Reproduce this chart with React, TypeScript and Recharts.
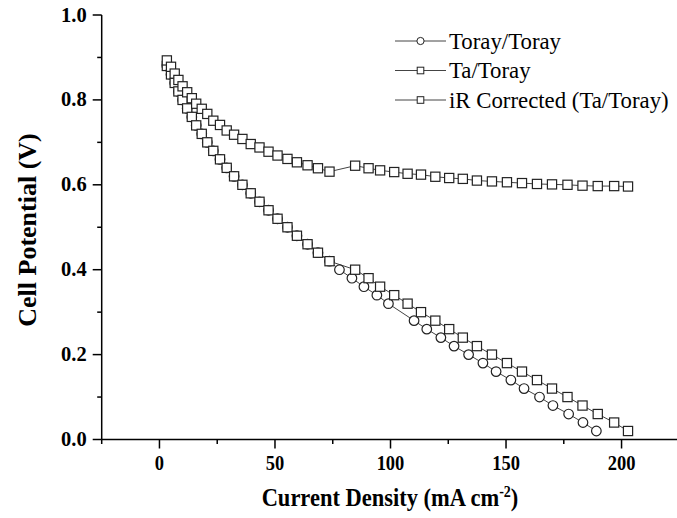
import React from 'react';
import { ComposedChart, Line, XAxis, YAxis } from 'recharts';

// Series names, in legend order
const seriesNames = ['Toray/Toray', 'Ta/Toray', 'iR Corrected (Ta/Toray)'];

// Ta/Toray cell: stepped cell potential (V) and current density (mA cm^-2)
const taVoltage = [
  0.88, 0.86, 0.84, 0.82, 0.8, 0.78, 0.76, 0.74, 0.72, 0.7, 0.68, 0.66, 0.64, 0.62, 0.6,
  0.58, 0.56, 0.54, 0.52, 0.5, 0.48, 0.46, 0.44, 0.42, 0.4, 0.38, 0.36, 0.34, 0.32, 0.3,
  0.28, 0.26, 0.24, 0.22, 0.2, 0.18, 0.16, 0.14, 0.12, 0.1, 0.08, 0.06, 0.04, 0.02,
];
const taCurrent = [
  3.2, 5.0, 6.6, 8.2, 10.0, 12.0, 14.0, 15.9, 18.3, 20.7, 23.3, 26.2, 29.1, 32.3, 35.9,
  39.5, 43.3, 47.2, 51.1, 55.4, 59.5, 64.1, 68.6, 73.6, 84.7, 90.5, 95.5, 101.6, 107.4, 113.2,
  119.4, 125.4, 131.3, 137.4, 143.9, 150.4, 156.9, 163.4, 169.9, 176.6, 183.1, 189.7, 196.8, 202.8,
];
// iR-corrected potential of the Ta/Toray cell at the same current densities
const irCorrectedVoltage = [
  0.893, 0.878, 0.862, 0.847, 0.832, 0.818, 0.804, 0.791, 0.779, 0.767, 0.751, 0.741, 0.728, 0.718, 0.708,
  0.696, 0.688, 0.678, 0.669, 0.661, 0.653, 0.646, 0.639, 0.631, 0.645, 0.639, 0.634, 0.63, 0.626, 0.624,
  0.619, 0.616, 0.614, 0.61, 0.608, 0.606, 0.604, 0.602, 0.601, 0.6, 0.598, 0.597, 0.597, 0.596,
];
// Toray/Toray cell
const torayVoltage = [
  0.88, 0.86, 0.84, 0.82, 0.8, 0.78, 0.76, 0.74, 0.72, 0.7, 0.68, 0.66, 0.64, 0.62, 0.6,
  0.58, 0.56, 0.54, 0.52, 0.5, 0.48, 0.46, 0.44, 0.42, 0.4, 0.38, 0.36, 0.34, 0.32, 0.28,
  0.26, 0.24, 0.22, 0.2, 0.18, 0.16, 0.14, 0.12, 0.1, 0.08, 0.06, 0.04, 0.02,
];
const torayCurrent = [
  3.2, 5.0, 6.6, 8.2, 10.0, 12.0, 14.0, 15.9, 18.3, 20.7, 23.3, 26.2, 29.1, 32.3, 35.9,
  39.5, 43.3, 47.2, 51.1, 55.4, 59.5, 64.1, 68.6, 73.6, 77.9, 83.3, 88.5, 94.1, 99.1, 110.2,
  115.7, 121.8, 127.5, 133.8, 140.0, 145.7, 152.1, 157.8, 164.5, 170.3, 177.1, 183.3, 189.1,
];

// Axis ticks (majors are labelled, the others are minor)
const xTicks = [-25, 0, 25, 50, 75, 100, 125, 150, 175, 200];
const xMajorLabels = [0, 50, 100, 150, 200];
const yTicks = [0, 0.1, 0.2, 0.3, 0.4, 0.5, 0.6, 0.7, 0.8, 0.9, 1.0];
const yMajorLabels = ['0.0', '0.2', '0.4', '0.6', '0.8', '1.0'];

const toPoints = (xs: number[], ys: number[]) => xs.map((x, i) => ({ x, v: ys[i] }));
const torayData = toPoints(torayCurrent, torayVoltage);
const taData = toPoints(taCurrent, taVoltage);
const irData = toPoints(taCurrent, irCorrectedVoltage);

const W = 677;
const H = 518;
const PLOT_LEFT = 101.7;
const PLOT_TOP = 15;
const PLOT_BOTTOM = 439.5;
const FONT = "'Liberation Serif', 'Times New Roman', serif";
const MARK = '#222';
const LINK = '#444';

const SquareDot = (props: any) => {
  const { cx, cy, index } = props;
  if (cx == null || cy == null) return <g key={`s-${index}`} />;
  return (
    <rect key={`s-${index}`} x={cx - 4.6} y={cy - 4.6} width={9.2} height={9.2}
      fill="#fff" stroke={MARK} strokeWidth={1.2} />
  );
};

const CircleDot = (props: any) => {
  const { cx, cy, index } = props;
  if (cx == null || cy == null) return <g key={`c-${index}`} />;
  return <circle key={`c-${index}`} cx={cx} cy={cy} r={4.8} fill="#fff" stroke={MARK} strokeWidth={1.2} />;
};

const XTick = (props: any) => {
  const { x, payload } = props;
  const v = payload.value;
  const major = xMajorLabels.includes(v);
  const by = PLOT_BOTTOM + 31;
  return (
    <g>
      <line x1={x} x2={x} y1={PLOT_BOTTOM} y2={PLOT_BOTTOM + (major ? 9 : 4.5)} stroke="#000" strokeWidth={1.5} />
      {major && (
        <text x={x} y={by} textAnchor="middle" fontFamily={FONT} fontWeight="bold"
          fontSize={18.5} fill="#000" transform={`translate(0 ${by}) scale(1 1.1) translate(0 ${-by})`}>
          {v}
        </text>
      )}
    </g>
  );
};

const YTick = (props: any) => {
  const { y, payload } = props;
  const v = payload.value;
  const label = v.toFixed(1);
  const major = yMajorLabels.includes(label);
  return (
    <g>
      <line x1={PLOT_LEFT} x2={PLOT_LEFT - (major ? 9 : 4.5)} y1={y} y2={y} stroke="#000" strokeWidth={1.5} />
      {major && (
        <text x={PLOT_LEFT - 15} y={y + 6.5} textAnchor="end" fontFamily={FONT} fontWeight="bold"
          fontSize={20.5} fill="#000">
          {label}
        </text>
      )}
    </g>
  );
};

const legendMarkers = ['circle', 'square', 'square'];

const LegendBox = () => (
  <svg width={W} height={H} style={{ position: 'absolute', left: 0, top: 0, pointerEvents: 'none' }}>
    {seriesNames.map((name, i) => {
      const cy = 41 + i * 29.5;
      return (
        <g key={name}>
          <line x1={395} x2={446} y1={cy} y2={cy} stroke={LINK} strokeWidth={1} />
          {legendMarkers[i] === 'circle' ? (
            <circle cx={420.5} cy={cy} r={3.6} fill="#fff" stroke={MARK} strokeWidth={1} />
          ) : (
            <rect x={417.2} y={cy - 3.3} width={6.6} height={6.6} fill="#fff" stroke={MARK} strokeWidth={1} />
          )}
          <text x={449} y={cy + 7.5} fontFamily={FONT} fontSize={22.8} fill="#000">
            {name}
          </text>
        </g>
      );
    })}
  </svg>
);

export default function App() {
  return (
    <div style={{ position: 'absolute', left: 0, top: 0, width: W, height: H, background: '#fff' }}>
      <ComposedChart width={W} height={H} margin={{ top: PLOT_TOP, right: 0, bottom: 0, left: 0 }}>
        <XAxis
          type="number"
          dataKey="x"
          domain={[-25, 224]}
          ticks={xTicks}
          interval={0}
          allowDataOverflow
          height={H - PLOT_BOTTOM}
          axisLine={{ stroke: '#000', strokeWidth: 1.5 }}
          tickLine={false}
          tick={<XTick />}
          label={{
            position: 'insideBottom',
            content: () => (
              <text x={390} y={506} textAnchor="middle" fontFamily={FONT} fontWeight="bold" fontSize={22.5} fill="#000"
                transform="translate(0 506) scale(1 1.15) translate(0 -506)">
                <tspan>Current Density (mA cm</tspan>
                <tspan dy={-8} fontSize={14}>-2</tspan>
                <tspan dy={8}>)</tspan>
              </text>
            ),
          }}
        />
        <YAxis
          type="number"
          dataKey="v"
          domain={[0, 1]}
          ticks={yTicks}
          interval={0}
          width={PLOT_LEFT}
          axisLine={{ stroke: '#000', strokeWidth: 1.5 }}
          tickLine={false}
          tick={<YTick />}
          label={{
            position: 'insideLeft',
            content: () => (
              <text x={36} y={230} textAnchor="middle" transform="rotate(-90 36 230)" fontFamily={FONT}
                fontWeight="bold" fontSize={26} fill="#000">
                Cell Potential (V)
              </text>
            ),
          }}
        />
        <Line data={torayData} dataKey="v" name={seriesNames[0]} type="linear" stroke={LINK} strokeWidth={1}
          dot={CircleDot} activeDot={false} isAnimationActive={false} />
        <Line data={taData} dataKey="v" name={seriesNames[1]} type="linear" stroke={LINK} strokeWidth={1}
          dot={SquareDot} activeDot={false} isAnimationActive={false} />
        <Line data={irData} dataKey="v" name={seriesNames[2]} type="linear" stroke={LINK} strokeWidth={1}
          dot={SquareDot} activeDot={false} isAnimationActive={false} />
      </ComposedChart>
      <LegendBox />
    </div>
  );
}
